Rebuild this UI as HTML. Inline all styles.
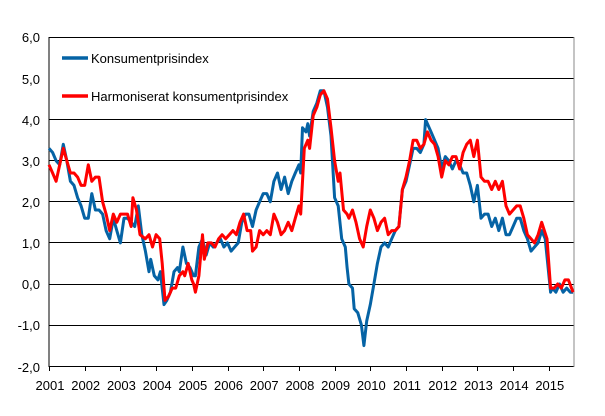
<!DOCTYPE html>
<html><head><meta charset="utf-8"><style>
body{margin:0;background:#fff;}
svg{display:block;font-family:"Liberation Sans",sans-serif;}
</style></head><body>
<svg id="c" width="605" height="416" xmlns="http://www.w3.org/2000/svg">
<g stroke="#000" stroke-width="1" shape-rendering="crispEdges">
<line x1="49" y1="37.5" x2="574" y2="37.5"/>
<line x1="310" y1="78.5" x2="574" y2="78.5"/>
<line x1="49" y1="119.5" x2="574" y2="119.5"/>
<line x1="49" y1="160.5" x2="574" y2="160.5"/>
<line x1="49" y1="201.5" x2="574" y2="201.5"/>
<line x1="49" y1="242.5" x2="574" y2="242.5"/>
<line x1="49" y1="284.5" x2="574" y2="284.5"/>
<line x1="49" y1="325.5" x2="574" y2="325.5"/>
<line x1="49" y1="37" x2="49" y2="367"/>
<line x1="49" y1="366.5" x2="574" y2="366.5"/>
<line x1="574" y1="37" x2="574" y2="367" stroke="#888"/>
</g>
<g id="ticks" stroke="#000" shape-rendering="crispEdges"></g>
<g font-size="13" fill="#000" text-anchor="end">
<text x="40" y="42">6,0</text><text x="40" y="84">5,0</text><text x="40" y="125">4,0</text>
<text x="40" y="166">3,0</text><text x="40" y="207">2,0</text><text x="40" y="248">1,0</text>
<text x="40" y="289">0,0</text><text x="40" y="330">-1,0</text><text x="40" y="372">-2,0</text>
</g>
<g id="xl" font-size="13" text-anchor="middle"></g>
<polyline id="b" fill="none" stroke="#0563a5" stroke-width="3" stroke-linejoin="round"/>
<polyline id="r" fill="none" stroke="#ff0000" stroke-width="3" stroke-linejoin="round"/>
<line x1="62" y1="58" x2="88" y2="58" stroke="#0563a5" stroke-width="3.5"/>
<line x1="62" y1="96" x2="88" y2="96" stroke="#ff0000" stroke-width="3.5"/>
<text x="91" y="63" font-size="13">Konsumentprisindex</text>
<text x="91" y="101" font-size="13">Harmoniserat konsumentprisindex</text>
</svg>
<script>
var X=function(t){return 49+(t-2001)*35.7},Y=function(v){return 284-v*41.1};
var ns="http://www.w3.org/2000/svg",tk=document.getElementById('ticks'),xl=document.getElementById('xl');
for(var yr=2001;yr<=2015;yr++){var l=document.createElementNS(ns,'line');var x=Math.round(X(yr))+0.5;
l.setAttribute('x1',x);l.setAttribute('x2',x);l.setAttribute('y1',366);l.setAttribute('y2',371);tk.appendChild(l);
var t=document.createElementNS(ns,'text');t.setAttribute('x',X(yr)+1);t.setAttribute('y',390);t.textContent=yr;xl.appendChild(t);}
var b=[2001.0,3.3,2001.1,3.2,2001.2,3.0,2001.3,2.9,2001.4,3.4,2001.5,3.0,2001.6,2.5,2001.7,2.4,2001.8,2.1,2001.9,1.9,2002.0,1.6,2002.1,1.6,2002.2,2.2,2002.3,1.8,2002.4,1.8,2002.5,1.7,2002.6,1.3,2002.7,1.1,2002.8,1.6,2002.9,1.3,2003.0,1.0,2003.1,1.6,2003.2,1.6,2003.3,1.5,2003.4,1.4,2003.5,1.9,2003.6,1.2,2003.7,0.8,2003.8,0.3,2003.85,0.6,2003.95,0.2,2004.05,0.1,2004.12,0.3,2004.22,-0.5,2004.3,-0.4,2004.4,-0.2,2004.5,0.3,2004.6,0.4,2004.65,0.3,2004.75,0.9,2004.85,0.5,2004.95,0.4,2005.05,0.2,2005.1,0.2,2005.2,0.9,2005.3,1.1,2005.4,0.7,2005.5,1.0,2005.6,0.9,2005.7,1.0,2005.8,1.1,2005.9,0.9,2006.0,1.0,2006.1,0.8,2006.2,0.9,2006.3,1.0,2006.4,1.5,2006.5,1.7,2006.6,1.7,2006.7,1.4,2006.8,1.8,2006.9,2.0,2007.0,2.2,2007.1,2.2,2007.2,2.0,2007.3,2.5,2007.4,2.7,2007.5,2.3,2007.6,2.6,2007.7,2.2,2007.8,2.5,2007.9,2.7,2008.0,2.9,2008.05,2.7,2008.1,3.8,2008.2,3.7,2008.25,3.9,2008.3,3.6,2008.4,4.2,2008.5,4.4,2008.6,4.7,2008.7,4.7,2008.8,4.3,2008.9,3.6,2009.0,2.1,2009.1,1.9,2009.2,1.1,2009.3,0.9,2009.35,0.4,2009.4,0.0,2009.5,-0.1,2009.55,-0.6,2009.65,-0.7,2009.75,-1.0,2009.82,-1.5,2009.9,-0.9,2010.0,-0.5,2010.1,0.0,2010.2,0.5,2010.3,0.9,2010.4,1.0,2010.5,0.9,2010.6,1.1,2010.7,1.3,2010.8,1.4,2010.9,2.3,2011.0,2.5,2011.1,2.9,2011.2,3.3,2011.3,3.3,2011.4,3.2,2011.5,3.4,2011.55,4.0,2011.6,3.9,2011.7,3.7,2011.8,3.5,2011.9,3.3,2012.0,2.8,2012.1,3.1,2012.2,3.0,2012.3,2.8,2012.4,3.0,2012.5,2.9,2012.6,2.7,2012.7,2.7,2012.8,2.4,2012.9,2.0,2013.0,2.4,2013.1,1.6,2013.2,1.7,2013.3,1.7,2013.4,1.4,2013.5,1.6,2013.6,1.3,2013.7,1.6,2013.8,1.2,2013.9,1.2,2014.0,1.4,2014.1,1.6,2014.2,1.6,2014.3,1.3,2014.4,1.1,2014.5,0.8,2014.6,0.9,2014.7,1.0,2014.8,1.3,2014.9,1.1,2015.05,-0.2,2015.1,-0.1,2015.2,-0.2,2015.3,0.0,2015.4,-0.2,2015.5,-0.1,2015.6,-0.2,2015.68,-0.2];
var r=[2001.0,2.9,2001.1,2.7,2001.2,2.5,2001.3,2.9,2001.4,3.3,2001.5,3.0,2001.6,2.7,2001.7,2.7,2001.8,2.6,2001.9,2.4,2002.0,2.4,2002.1,2.9,2002.2,2.5,2002.3,2.6,2002.4,2.6,2002.5,2.0,2002.6,1.7,2002.7,1.3,2002.8,1.7,2002.9,1.5,2003.0,1.7,2003.1,1.7,2003.2,1.7,2003.3,1.4,2003.35,2.1,2003.45,1.8,2003.55,1.2,2003.7,1.1,2003.8,1.2,2003.9,0.9,2004.0,1.2,2004.1,1.1,2004.17,0.5,2004.25,-0.4,2004.35,-0.3,2004.45,-0.1,2004.55,-0.1,2004.65,0.2,2004.75,0.3,2004.8,0.2,2004.9,0.5,2005.0,0.1,2005.05,0.0,2005.1,-0.2,2005.2,0.2,2005.3,1.2,2005.35,0.6,2005.45,1.0,2005.55,1.0,2005.65,0.9,2005.75,1.1,2005.85,1.2,2005.95,1.1,2006.05,1.2,2006.15,1.3,2006.25,1.2,2006.35,1.5,2006.45,1.7,2006.55,1.3,2006.65,1.3,2006.7,0.8,2006.8,0.9,2006.9,1.3,2007.0,1.2,2007.1,1.3,2007.2,1.2,2007.3,1.7,2007.4,1.5,2007.5,1.2,2007.6,1.3,2007.7,1.5,2007.8,1.3,2007.9,1.6,2008.0,1.9,2008.05,1.7,2008.15,3.3,2008.25,3.5,2008.3,3.3,2008.4,4.1,2008.5,4.3,2008.6,4.6,2008.7,4.7,2008.8,4.5,2008.9,3.8,2009.0,3.0,2009.1,2.5,2009.15,2.7,2009.25,1.8,2009.35,1.7,2009.4,1.6,2009.5,1.8,2009.6,1.5,2009.7,1.1,2009.8,0.9,2009.9,1.4,2010.0,1.8,2010.1,1.6,2010.2,1.3,2010.3,1.5,2010.4,1.6,2010.5,1.2,2010.6,1.3,2010.7,1.3,2010.8,1.4,2010.9,2.3,2011.0,2.6,2011.1,3.0,2011.2,3.5,2011.3,3.5,2011.4,3.3,2011.5,3.4,2011.6,3.7,2011.7,3.5,2011.8,3.4,2011.9,3.1,2012.0,2.6,2012.1,3.0,2012.2,2.9,2012.3,3.1,2012.4,3.1,2012.5,2.8,2012.6,3.2,2012.7,3.4,2012.8,3.5,2012.9,3.1,2013.0,3.5,2013.1,2.6,2013.2,2.5,2013.3,2.5,2013.4,2.3,2013.5,2.5,2013.6,2.3,2013.7,2.5,2013.8,1.9,2013.9,1.7,2014.0,1.8,2014.1,1.9,2014.2,1.9,2014.3,1.6,2014.4,1.2,2014.5,1.1,2014.6,1.0,2014.7,1.2,2014.8,1.5,2014.95,1.1,2015.05,-0.1,2015.15,-0.1,2015.25,0.0,2015.35,-0.1,2015.45,0.1,2015.55,0.1,2015.68,-0.2];
function pts(a){var s=[];for(var i=0;i<a.length;i+=2)s.push(X(a[i]).toFixed(1)+','+Y(a[i+1]).toFixed(1));return s.join(' ');}
document.getElementById('b').setAttribute('points',pts(b));
document.getElementById('r').setAttribute('points',pts(r));
</script>
</body></html>
